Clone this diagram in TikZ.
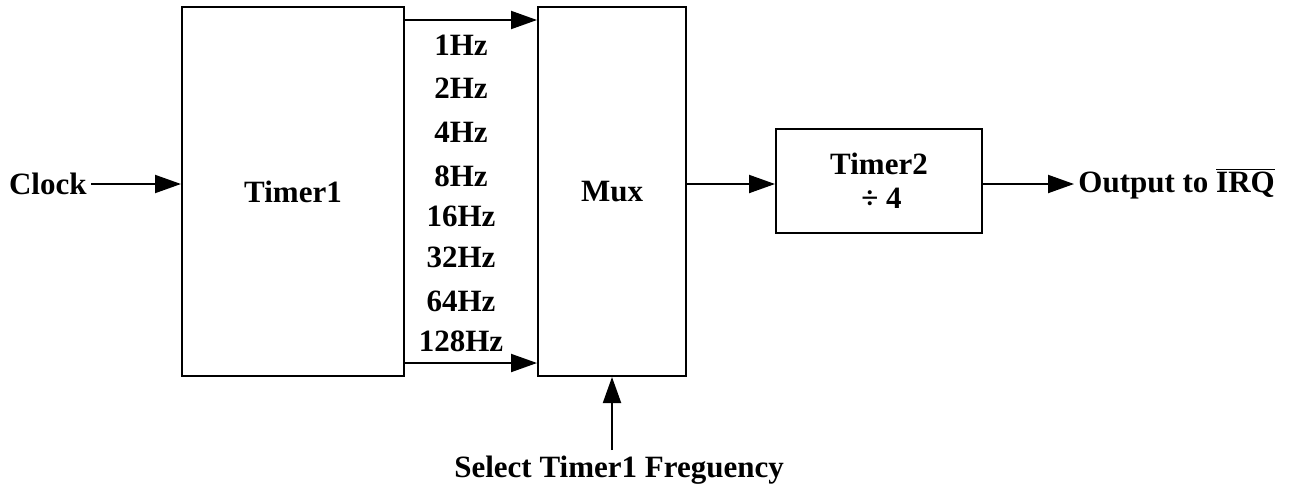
\documentclass[tikz,border=0pt]{standalone}
\usepackage{fontspec}
\setmainfont{Liberation Serif}
\usetikzlibrary{arrows.meta, positioning}

\begin{document}
\begin{tikzpicture}[
  x=0.5pt, y=-0.5pt,
  font=\bfseries\fontsize{15.5}{17}\selectfont,
  blk/.style={rectangle, draw, line width=1pt, inner sep=0pt, align=center},
  lbl/.style={inner sep=2pt},
  arr/.style={-{Triangle[length=13pt, width=9pt]}, line width=1pt}
]
  \useasboundingbox (0,0) rectangle (1293,488);

  % ── Blocks ──────────────────────────────────────────────────────────────────
  \node[blk, minimum width=111pt, minimum height=184.5pt] (t1) at (293,191.5) {Timer1};
  \node[blk, minimum width=74pt, minimum height=184.5pt] (mux) at (612,191.5) {Mux};
  \node[blk, minimum width=103pt, minimum height=52pt] (t2) at (879,181) {Timer2\\\,÷ 4};

  % ── Outer labels ────────────────────────────────────────────────────────────
  \node[lbl, anchor=east] (clk) at (91,184) {Clock};
  \node[lbl, anchor=west] (out) at (1074,184) {Output to $\overline{\hbox{IRQ}}$};
  \node[inner sep=0pt, anchor=north] (sel) at (619,456) {Select Timer1 Freguency};

  % ── Frequencies ─────────────────────────────────────────────────────────────
  \node[lbl] (f1)   at (461,45)  {1Hz};
  \node[lbl] (f2)   at (461,88)  {2Hz};
  \node[lbl] (f4)   at (461,132) {4Hz};
  \node[lbl] (f8)   at (461,176) {8Hz};
  \node[lbl] (f16)  at (461,216) {16Hz};
  \node[lbl] (f32)  at (461,257) {32Hz};
  \node[lbl] (f64)  at (461,301) {64Hz};
  \node[lbl] (f128) at (461,341) {128Hz};

  % ── Arrows ──────────────────────────────────────────────────────────────────
  \draw[arr] (clk.east) -- (clk.east -| t1.west);
  \draw[arr] ([yshift=-7pt]t1.north east) -- ([yshift=-7pt]mux.north west);
  \draw[arr] ([yshift=7pt]t1.south east) -- ([yshift=7pt]mux.south west);
  \draw[arr] (mux.east |- clk.east) -- (t2.west |- clk.east);
  \draw[arr] (t2.east |- clk.east) -- (out.west);
  \draw[arr] ([yshift=3pt]mux.south |- sel.north) -- (mux.south);
\end{tikzpicture}
\end{document}
